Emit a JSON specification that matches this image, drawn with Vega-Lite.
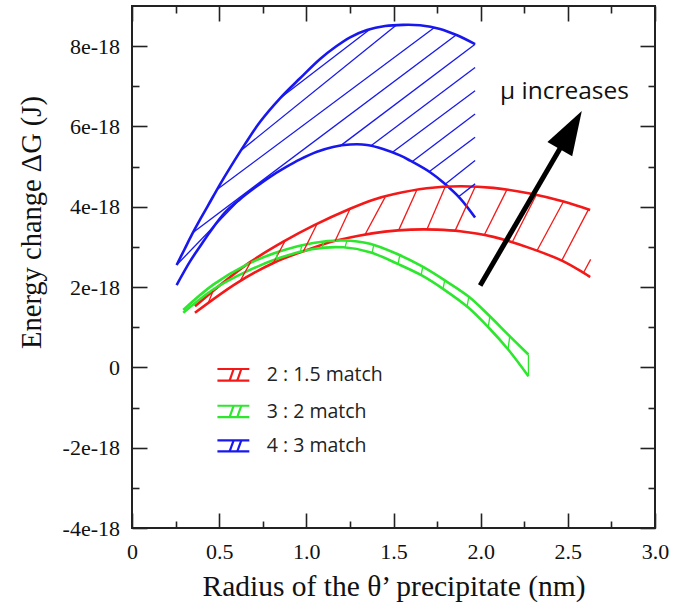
{
  "$schema": "https://vega.github.io/schema/vega-lite/v6.json",
  "width": 523,
  "height": 522,
  "autosize": {"type": "none"},
  "padding": {"left": 132, "top": 6, "right": 25, "bottom": 79},
  "background": "white",
  "config": {"view": {"stroke": "#222", "strokeWidth": 2}},
  "datasets": {
    "curves": [
      {"s":"4:3","p":"upper","x":0.256,"y":2.55e-18},{"s":"4:3","p":"upper","x":0.300,"y":2.93e-18},{"s":"4:3","p":"upper","x":0.344,"y":3.31e-18},{"s":"4:3","p":"upper","x":0.390,"y":3.68e-18},{"s":"4:3","p":"upper","x":0.436,"y":4.03e-18},{"s":"4:3","p":"upper","x":0.505,"y":4.56e-18},{"s":"4:3","p":"upper","x":0.562,"y":4.97e-18},{"s":"4:3","p":"upper","x":0.648,"y":5.56e-18},{"s":"4:3","p":"upper","x":0.734,"y":6.11e-18},{"s":"4:3","p":"upper","x":0.849,"y":6.70e-18},{"s":"4:3","p":"upper","x":0.964,"y":7.20e-18},{"s":"4:3","p":"upper","x":1.079,"y":7.68e-18},{"s":"4:3","p":"upper","x":1.170,"y":7.99e-18},{"s":"4:3","p":"upper","x":1.251,"y":8.22e-18},{"s":"4:3","p":"upper","x":1.348,"y":8.40e-18},{"s":"4:3","p":"upper","x":1.452,"y":8.50e-18},{"s":"4:3","p":"upper","x":1.555,"y":8.53e-18},{"s":"4:3","p":"upper","x":1.652,"y":8.52e-18},{"s":"4:3","p":"upper","x":1.767,"y":8.43e-18},{"s":"4:3","p":"upper","x":1.865,"y":8.27e-18},{"s":"4:3","p":"upper","x":1.968,"y":8.05e-18},
      {"s":"4:3","p":"lower","x":0.256,"y":2.05e-18},{"s":"4:3","p":"lower","x":0.333,"y":2.64e-18},{"s":"4:3","p":"lower","x":0.390,"y":3.01e-18},{"s":"4:3","p":"lower","x":0.448,"y":3.38e-18},{"s":"4:3","p":"lower","x":0.534,"y":3.86e-18},{"s":"4:3","p":"lower","x":0.620,"y":4.19e-18},{"s":"4:3","p":"lower","x":0.706,"y":4.48e-18},{"s":"4:3","p":"lower","x":0.790,"y":4.74e-18},{"s":"4:3","p":"lower","x":0.880,"y":4.98e-18},{"s":"4:3","p":"lower","x":0.964,"y":5.18e-18},{"s":"4:3","p":"lower","x":1.061,"y":5.37e-18},{"s":"4:3","p":"lower","x":1.153,"y":5.49e-18},{"s":"4:3","p":"lower","x":1.251,"y":5.55e-18},{"s":"4:3","p":"lower","x":1.348,"y":5.54e-18},{"s":"4:3","p":"lower","x":1.440,"y":5.44e-18},{"s":"4:3","p":"lower","x":1.537,"y":5.28e-18},{"s":"4:3","p":"lower","x":1.595,"y":5.15e-18},{"s":"4:3","p":"lower","x":1.710,"y":4.86e-18},{"s":"4:3","p":"lower","x":1.784,"y":4.61e-18},{"s":"4:3","p":"lower","x":1.882,"y":4.21e-18},{"s":"4:3","p":"lower","x":1.968,"y":3.73e-18},
      {"s":"2:1.5","p":"upper","x":0.361,"y":1.52e-18},{"s":"2:1.5","p":"upper","x":0.500,"y":2.03e-18},{"s":"2:1.5","p":"upper","x":0.677,"y":2.62e-18},{"s":"2:1.5","p":"upper","x":0.868,"y":3.13e-18},{"s":"2:1.5","p":"upper","x":1.040,"y":3.53e-18},{"s":"2:1.5","p":"upper","x":1.251,"y":3.95e-18},{"s":"2:1.5","p":"upper","x":1.380,"y":4.17e-18},{"s":"2:1.5","p":"upper","x":1.499,"y":4.31e-18},{"s":"2:1.5","p":"upper","x":1.691,"y":4.46e-18},{"s":"2:1.5","p":"upper","x":1.882,"y":4.51e-18},{"s":"2:1.5","p":"upper","x":2.073,"y":4.47e-18},{"s":"2:1.5","p":"upper","x":2.283,"y":4.33e-18},{"s":"2:1.5","p":"upper","x":2.475,"y":4.13e-18},{"s":"2:1.5","p":"upper","x":2.628,"y":3.92e-18},
      {"s":"2:1.5","p":"lower","x":0.361,"y":1.36e-18},{"s":"2:1.5","p":"lower","x":0.601,"y":2.10e-18},{"s":"2:1.5","p":"lower","x":0.811,"y":2.60e-18},{"s":"2:1.5","p":"lower","x":0.983,"y":2.89e-18},{"s":"2:1.5","p":"lower","x":1.155,"y":3.14e-18},{"s":"2:1.5","p":"lower","x":1.300,"y":3.28e-18},{"s":"2:1.5","p":"lower","x":1.450,"y":3.38e-18},{"s":"2:1.5","p":"lower","x":1.600,"y":3.43e-18},{"s":"2:1.5","p":"lower","x":1.750,"y":3.43e-18},{"s":"2:1.5","p":"lower","x":1.882,"y":3.39e-18},{"s":"2:1.5","p":"lower","x":2.073,"y":3.25e-18},{"s":"2:1.5","p":"lower","x":2.283,"y":2.97e-18},{"s":"2:1.5","p":"lower","x":2.475,"y":2.64e-18},{"s":"2:1.5","p":"lower","x":2.628,"y":2.25e-18},
      {"s":"3:2","p":"upper","x":0.294,"y":1.43e-18},{"s":"3:2","p":"upper","x":0.466,"y":2.06e-18},{"s":"3:2","p":"upper","x":0.658,"y":2.56e-18},{"s":"3:2","p":"upper","x":0.849,"y":2.89e-18},{"s":"3:2","p":"upper","x":1.040,"y":3.10e-18},{"s":"3:2","p":"upper","x":1.212,"y":3.16e-18},{"s":"3:2","p":"upper","x":1.365,"y":3.08e-18},{"s":"3:2","p":"upper","x":1.528,"y":2.81e-18},{"s":"3:2","p":"upper","x":1.662,"y":2.52e-18},{"s":"3:2","p":"upper","x":1.786,"y":2.19e-18},{"s":"3:2","p":"upper","x":1.929,"y":1.77e-18},{"s":"3:2","p":"upper","x":2.044,"y":1.31e-18},{"s":"3:2","p":"upper","x":2.159,"y":0.81e-18},{"s":"3:2","p":"upper","x":2.274,"y":0.32e-18},
      {"s":"3:2","p":"lower","x":0.294,"y":1.36e-18},{"s":"3:2","p":"lower","x":0.466,"y":1.94e-18},{"s":"3:2","p":"lower","x":0.658,"y":2.39e-18},{"s":"3:2","p":"lower","x":0.849,"y":2.73e-18},{"s":"3:2","p":"lower","x":1.040,"y":2.95e-18},{"s":"3:2","p":"lower","x":1.212,"y":2.99e-18},{"s":"3:2","p":"lower","x":1.365,"y":2.87e-18},{"s":"3:2","p":"lower","x":1.528,"y":2.57e-18},{"s":"3:2","p":"lower","x":1.662,"y":2.29e-18},{"s":"3:2","p":"lower","x":1.786,"y":1.95e-18},{"s":"3:2","p":"lower","x":1.929,"y":1.49e-18},{"s":"3:2","p":"lower","x":2.044,"y":1.00e-18},{"s":"3:2","p":"lower","x":2.159,"y":0.44e-18},{"s":"3:2","p":"lower","x":2.274,"y":-0.22e-18}
    ],
    "hatch": [
      {"s":"4:3","x":0.256,"y":2.55e-18,"x2":0.629,"y2":4.23e-18},
      {"s":"4:3","x":0.350,"y":3.36e-18,"x2":1.859,"y2":8.28e-18},
      {"s":"4:3","x":0.488,"y":4.43e-18,"x2":1.733,"y2":8.46e-18},
      {"s":"4:3","x":0.625,"y":5.40e-18,"x2":1.515,"y2":8.52e-18},
      {"s":"4:3","x":0.849,"y":6.70e-18,"x2":1.365,"y2":8.42e-18},
      {"s":"4:3","x":1.193,"y":5.51e-18,"x2":1.968,"y2":8.05e-18},
      {"s":"4:3","x":1.371,"y":5.52e-18,"x2":1.968,"y2":7.47e-18},
      {"s":"4:3","x":1.492,"y":5.35e-18,"x2":1.968,"y2":6.89e-18},
      {"s":"4:3","x":1.606,"y":5.12e-18,"x2":1.968,"y2":6.31e-18},
      {"s":"4:3","x":1.704,"y":4.87e-18,"x2":1.968,"y2":5.73e-18},
      {"s":"4:3","x":1.796,"y":4.56e-18,"x2":1.968,"y2":5.15e-18},
      {"s":"4:3","x":1.873,"y":4.25e-18,"x2":1.968,"y2":4.57e-18},
      {"s":"2:1.5","x":0.436,"y":1.59e-18,"x2":0.465,"y2":1.90e-18},
      {"s":"2:1.5","x":0.620,"y":2.15e-18,"x2":0.683,"y2":2.64e-18},
      {"s":"2:1.5","x":0.811,"y":2.60e-18,"x2":0.878,"y2":3.15e-18},
      {"s":"2:1.5","x":0.983,"y":2.89e-18,"x2":1.060,"y2":3.56e-18},
      {"s":"2:1.5","x":1.165,"y":3.15e-18,"x2":1.251,"y2":3.95e-18},
      {"s":"2:1.5","x":1.337,"y":3.31e-18,"x2":1.452,"y2":4.24e-18},
      {"s":"2:1.5","x":1.528,"y":3.40e-18,"x2":1.633,"y2":4.41e-18},
      {"s":"2:1.5","x":1.691,"y":3.43e-18,"x2":1.796,"y2":4.49e-18},
      {"s":"2:1.5","x":1.853,"y":3.40e-18,"x2":1.968,"y2":4.49e-18},
      {"s":"2:1.5","x":2.020,"y":3.29e-18,"x2":2.150,"y2":4.42e-18},
      {"s":"2:1.5","x":2.180,"y":3.11e-18,"x2":2.318,"y2":4.29e-18},
      {"s":"2:1.5","x":2.322,"y":2.90e-18,"x2":2.475,"y2":4.13e-18},
      {"s":"2:1.5","x":2.465,"y":2.66e-18,"x2":2.618,"y2":3.93e-18},
      {"s":"2:1.5","x":2.589,"y":2.35e-18,"x2":2.631,"y2":2.69e-18},
      {"s":"3:2","x":0.826,"y":2.69e-18,"x2":0.836,"y2":2.87e-18},
      {"s":"3:2","x":0.964,"y":2.86e-18,"x2":0.974,"y2":3.03e-18},
      {"s":"3:2","x":1.090,"y":2.97e-18,"x2":1.100,"y2":3.12e-18},
      {"s":"3:2","x":1.222,"y":2.99e-18,"x2":1.232,"y2":3.15e-18},
      {"s":"3:2","x":1.377,"y":2.85e-18,"x2":1.387,"y2":3.05e-18},
      {"s":"3:2","x":1.526,"y":2.57e-18,"x2":1.536,"y2":2.79e-18},
      {"s":"3:2","x":1.658,"y":2.30e-18,"x2":1.668,"y2":2.50e-18},
      {"s":"3:2","x":1.784,"y":1.96e-18,"x2":1.794,"y2":2.17e-18},
      {"s":"3:2","x":1.922,"y":1.51e-18,"x2":1.932,"y2":1.76e-18},
      {"s":"3:2","x":2.043,"y":1.00e-18,"x2":2.053,"y2":1.27e-18},
      {"s":"3:2","x":2.157,"y":0.45e-18,"x2":2.167,"y2":0.78e-18},
      {"s":"3:2","x":2.274,"y":-0.22e-18,"x2":2.274,"y2":0.32e-18}
    ],
    "legsym": [
      {"s":"2:1.5","x":0.49,"y":-0.04e-18,"x2":0.673,"y2":-0.04e-18},
      {"s":"2:1.5","x":0.49,"y":-0.33e-18,"x2":0.673,"y2":-0.33e-18},
      {"s":"2:1.5","x":0.560,"y":-0.33e-18,"x2":0.583,"y2":-0.04e-18},
      {"s":"2:1.5","x":0.604,"y":-0.33e-18,"x2":0.627,"y2":-0.04e-18},
      {"s":"3:2","x":0.49,"y":-0.955e-18,"x2":0.673,"y2":-0.955e-18},
      {"s":"3:2","x":0.49,"y":-1.237e-18,"x2":0.673,"y2":-1.237e-18},
      {"s":"3:2","x":0.560,"y":-1.237e-18,"x2":0.583,"y2":-0.955e-18},
      {"s":"3:2","x":0.604,"y":-1.237e-18,"x2":0.627,"y2":-0.955e-18},
      {"s":"4:3","x":0.49,"y":-1.82e-18,"x2":0.673,"y2":-1.82e-18},
      {"s":"4:3","x":0.49,"y":-2.09e-18,"x2":0.673,"y2":-2.09e-18},
      {"s":"4:3","x":0.560,"y":-2.09e-18,"x2":0.583,"y2":-1.82e-18},
      {"s":"4:3","x":0.604,"y":-2.09e-18,"x2":0.627,"y2":-1.82e-18}
    ],
    "legtext": [
      {"label":"2 : 1.5 match","x":0.773,"y":-0.19e-18},
      {"label":"3 : 2 match","x":0.773,"y":-1.10e-18},
      {"label":"4 : 3 match","x":0.773,"y":-1.96e-18}
    ],
    "arrow": [{"x":1.997,"y":2.04e-18,"x2":2.517,"y2":5.91e-18}],
    "note": [{"label":"μ increases","x":2.111,"y":6.69e-18}]
  },
  "resolve": {"axis": {"x": "independent", "y": "independent"}},
  "layer": [
    {
      "data": {"name": "curves"},
      "mark": {"type": "line", "strokeWidth": 2.6, "interpolate": "catmull-rom"},
      "encoding": {
        "x": {"field": "x", "type": "quantitative",
          "scale": {"domain": [0, 3], "nice": false, "zero": false},
          "axis": {"orient": "bottom", "values": [0,0.25,0.5,0.75,1,1.25,1.5,1.75,2,2.25,2.5,2.75,3],
            "domain": false, "grid": false,
            "labelExpr": "abs(datum.value*2-round(datum.value*2))>0.001 ? '' : (datum.value==0 ? '0' : format(datum.value,'.1f'))",
            "tickSize": {"condition": {"test": "abs(datum.value*2-round(datum.value*2))<0.001", "value": -15}, "value": -7},
            "tickColor": "#222", "tickWidth": 1.6,
            "labelPadding": 28, "labelFont": "Liberation Serif", "labelFontSize": 22, "labelColor": "#111",
            "labelFlush": false, "labelOverlap": false, "labelBound": false,
            "title": "Radius of the θ’ precipitate (nm)", "titleFont": "Liberation Serif", "titleFontSize": 29.5,
            "titleFontWeight": "normal", "titleColor": "#111", "titlePadding": 2}},
        "y": {"field": "y", "type": "quantitative",
          "scale": {"domain": [-4e-18, 9e-18], "nice": false, "zero": false},
          "axis": {"orient": "left", "values": [-4e-18,-3e-18,-2e-18,-1e-18,0,1e-18,2e-18,3e-18,4e-18,5e-18,6e-18,7e-18,8e-18],
            "domain": false, "grid": false,
            "labelExpr": "datum.value==0 ? '0' : (abs(datum.value*5e17-round(datum.value*5e17))>0.001 ? '' : round(datum.value*1e18) + 'e-18')",
            "tickSize": {"condition": {"test": "abs(datum.value*5e17-round(datum.value*5e17))<0.001", "value": -15}, "value": -7},
            "tickColor": "#222", "tickWidth": 1.6,
            "labelPadding": 27.5, "labelFont": "Liberation Serif", "labelFontSize": 22, "labelColor": "#111",
            "labelFlush": false, "labelOverlap": false, "labelBound": false,
            "title": "Energy change ΔG (J)", "titleFont": "Liberation Serif", "titleFontSize": 28.5,
            "titleFontWeight": "normal", "titleColor": "#111", "titlePadding": 16, "titleY": 216}},
        "color": {"field": "s", "type": "nominal",
          "scale": {"domain": ["2:1.5", "3:2", "4:3"], "range": ["#f41818", "#2ee62e", "#1818ee"]}, "legend": null},
        "detail": {"field": "p", "type": "nominal"}
      }
    },
    {
      "data": {"name": "hatch"},
      "mark": {"type": "rule", "strokeWidth": 1.3},
      "encoding": {
        "x": {"field": "x", "type": "quantitative",
          "axis": {"orient": "top", "values": [0,0.25,0.5,0.75,1,1.25,1.5,1.75,2,2.25,2.5,2.75,3],
            "domain": false, "grid": false, "labels": false, "title": null,
            "tickSize": {"condition": {"test": "abs(datum.value*2-round(datum.value*2))<0.001", "value": -15}, "value": -7},
            "tickColor": "#222", "tickWidth": 1.6}},
        "y": {"field": "y", "type": "quantitative",
          "axis": {"orient": "right", "values": [-4e-18,-3e-18,-2e-18,-1e-18,0,1e-18,2e-18,3e-18,4e-18,5e-18,6e-18,7e-18,8e-18],
            "domain": false, "grid": false, "labels": false, "title": null,
            "tickSize": {"condition": {"test": "abs(datum.value*5e17-round(datum.value*5e17))<0.001", "value": -15}, "value": -7},
            "tickColor": "#222", "tickWidth": 1.6}},
        "x2": {"field": "x2"},
        "y2": {"field": "y2"},
        "color": {"field": "s", "type": "nominal", "legend": null}
      }
    },
    {
      "data": {"name": "legsym"},
      "mark": {"type": "rule", "strokeWidth": 2.2},
      "encoding": {
        "x": {"field": "x", "type": "quantitative", "axis": null},
        "y": {"field": "y", "type": "quantitative", "axis": null},
        "x2": {"field": "x2"},
        "y2": {"field": "y2"},
        "color": {"field": "s", "type": "nominal", "legend": null}
      }
    },
    {
      "data": {"name": "legtext"},
      "mark": {"type": "text", "font": "Open Sans", "fontSize": 19.5, "align": "left", "baseline": "middle", "color": "#222"},
      "encoding": {
        "x": {"field": "x", "type": "quantitative", "axis": null},
        "y": {"field": "y", "type": "quantitative", "axis": null},
        "text": {"field": "label"}
      }
    },
    {
      "data": {"name": "arrow"},
      "mark": {"type": "rule", "strokeWidth": 5, "color": "#000"},
      "encoding": {
        "x": {"field": "x", "type": "quantitative", "axis": null},
        "y": {"field": "y", "type": "quantitative", "axis": null},
        "x2": {"field": "x2"},
        "y2": {"field": "y2"}
      }
    },
    {
      "data": {"name": "arrow"},
      "mark": {"type": "point", "shape": "M0,-1L0.65,1L-0.65,1Z", "size": 1936, "angle": 30, "filled": true, "opacity": 1, "color": "#000", "strokeWidth": 0},
      "encoding": {
        "x": {"field": "x2", "type": "quantitative", "axis": null},
        "y": {"field": "y2", "type": "quantitative", "axis": null}
      }
    },
    {
      "data": {"name": "note"},
      "mark": {"type": "text", "font": "Open Sans", "fontSize": 24.5, "align": "left", "baseline": "alphabetic", "color": "#111"},
      "encoding": {
        "x": {"field": "x", "type": "quantitative", "axis": null},
        "y": {"field": "y", "type": "quantitative", "axis": null},
        "text": {"field": "label"}
      }
    }
  ]
}
